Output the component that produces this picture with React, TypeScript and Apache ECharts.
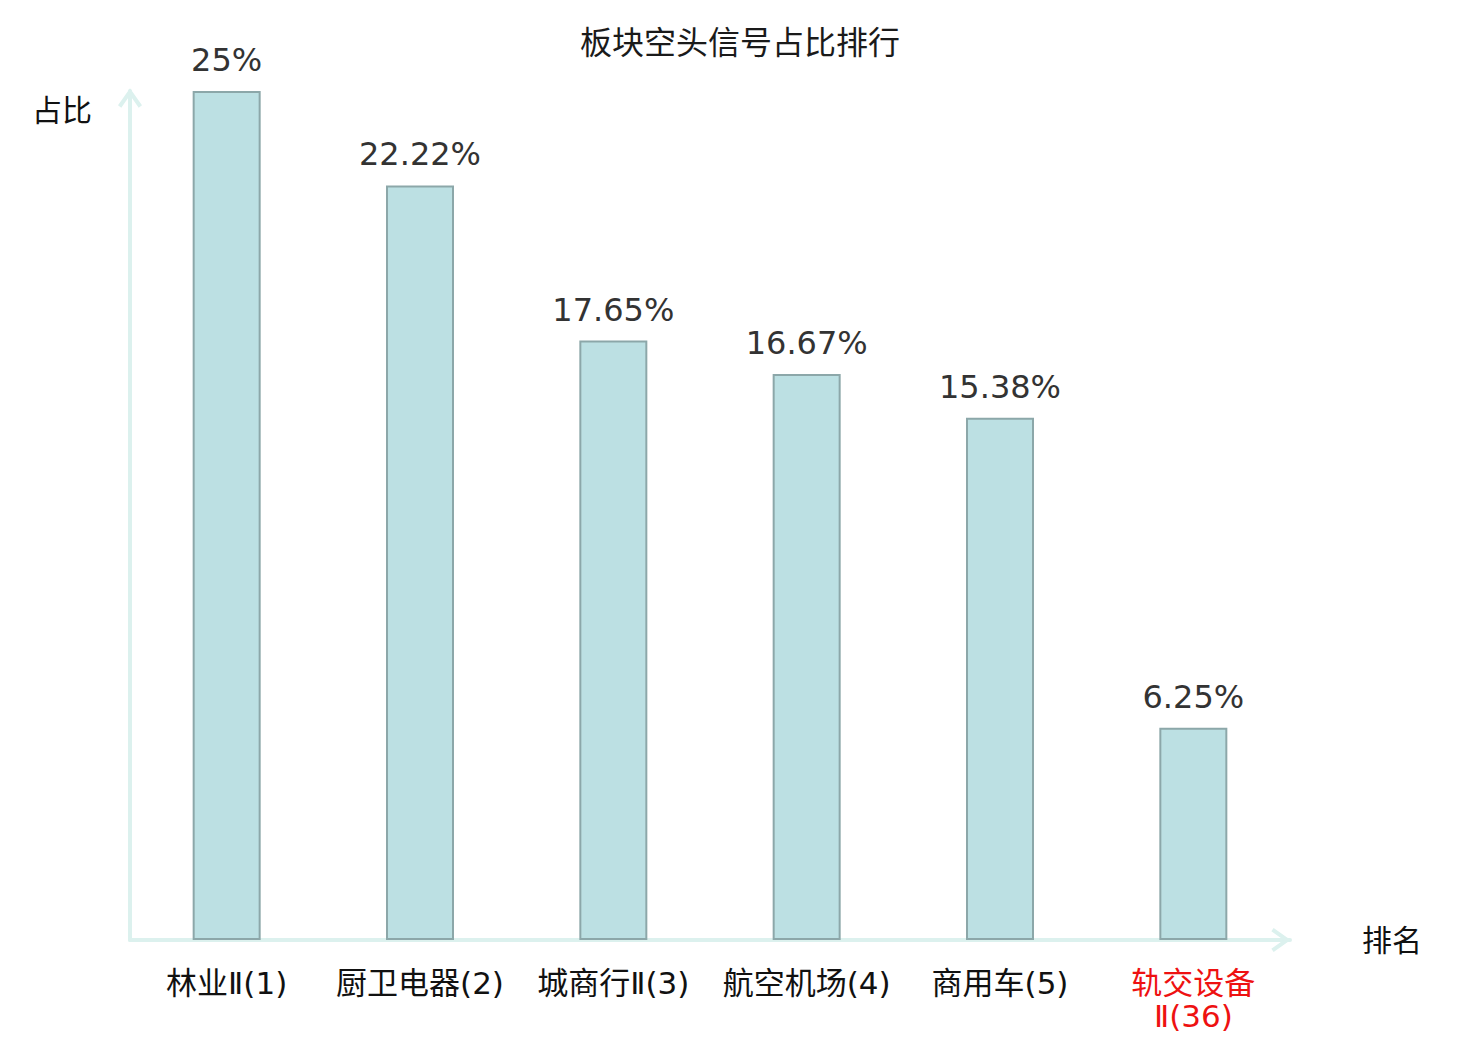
import React, { useEffect, useRef } from "react";
import * as echarts from "echarts";

const categories = ["林业Ⅱ(1)", "厨卫电器(2)", "城商行Ⅱ(3)", "航空机场(4)", "商用车(5)", "轨交设备\nⅡ(36)"];
const values = [25, 22.22, 17.65, 16.67, 15.38, 6.25];
const highlightIndex = 5;

const FONT = '"DejaVu Sans", "Noto Sans CJK SC", sans-serif';
const AXIS_COLOR = "#dcf1ee";

export default function App() {
  const ref = useRef<HTMLDivElement>(null);
  useEffect(() => {
    if (!ref.current) return;
    const chart = echarts.init(ref.current, undefined, { renderer: "svg" });
    const chevronUp = "path://M12,0 L24,17 L20.7,19.3 L12,7 L3.3,19.3 L0,17 Z";
    chart.setOption({
      animation: false,
      backgroundColor: "#ffffff",
      title: {
        text: "板块空头信号占比排行",
        left: "center",
        top: 22,
        textStyle: { fontFamily: FONT, fontSize: 32, fontWeight: "normal", color: "#1a1a1a" },
      },
      grid: { left: 130, right: 190, top: 91, bottom: 100, containLabel: false },
      xAxis: {
        type: "category",
        data: categories,
        name: "排名",
        nameLocation: "end",
        nameGap: 72,
        nameTextStyle: { fontFamily: FONT, fontSize: 30, color: "#111", verticalAlign: "middle" },
        axisLine: {
          show: true,
          lineStyle: { color: AXIS_COLOR, width: 4 },
          symbol: ["none", chevronUp],
          symbolSize: [24, 19.3],
          symbolOffset: [0, -9],
        },
        axisTick: { show: false },
        axisLabel: {
          interval: 0,
          margin: 26,
          fontFamily: FONT,
          fontSize: 31,
          lineHeight: 33,
          color: (_v: string, idx: number) => (idx === highlightIndex ? "#ee1111" : "#111111"),
        },
      },
      yAxis: {
        type: "value",
        min: 0,
        max: 25,
        name: "占比",
        nameLocation: "end",
        nameGap: -19,
        nameTextStyle: {
          fontFamily: FONT,
          fontSize: 30,
          color: "#111",
          align: "right",
          verticalAlign: "middle",
          padding: [0, 38, 0, 0],
        },
        axisLine: {
          show: true,
          lineStyle: { color: AXIS_COLOR, width: 4 },
          symbol: ["none", chevronUp],
          symbolSize: [24, 19.3],
          symbolOffset: [0, -7],
        },
        axisTick: { show: false },
        axisLabel: { show: false },
        splitLine: { show: false },
      },
      series: [
        {
          type: "bar",
          data: values,
          barWidth: 68,
          itemStyle: { color: "#bce0e3", borderColor: "#8ca7a9", borderWidth: 2 },
          label: {
            show: true,
            position: "top",
            distance: 15,
            formatter: (p: any) => `${p.value}%`,
            fontFamily: FONT,
            fontSize: 32,
            color: "#333333",
          },
        },
      ],
    });
    return () => chart.dispose();
  }, []);
  return (
    <div
      ref={ref}
      style={{ position: "fixed", left: 0, top: 0, width: 1480, height: 1040, background: "#fff" }}
    />
  );
}
